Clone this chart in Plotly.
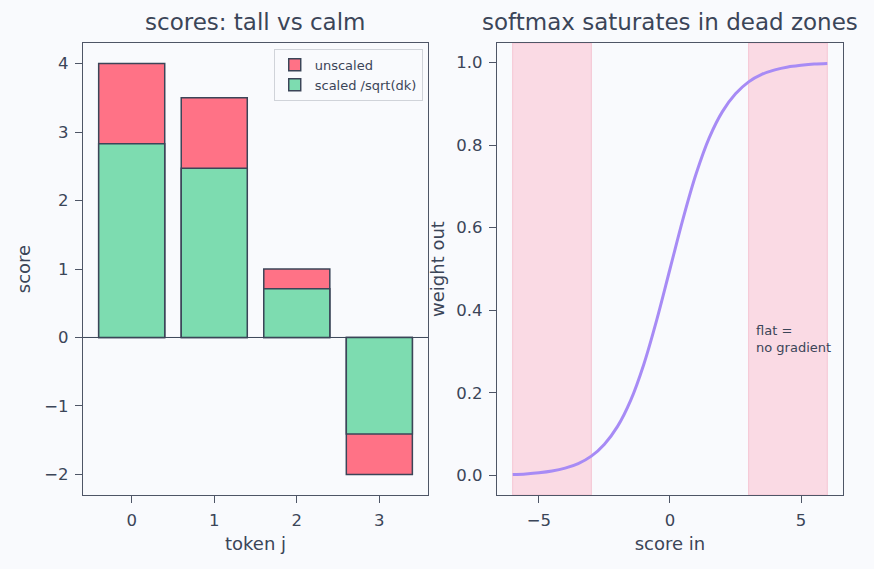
import plotly.graph_objects as go

tokens = [0, 1, 2, 3]
unscaled = [4.0, 3.5, 1.0, -2.0]
scaled = [2.83, 2.47, 0.71, -1.41]

score_in = [-6, -5.5, -5, -4.5, -4, -3.5, -3, -2.5, -2, -1.5, -1, -0.5, 0,
            0.5, 1, 1.5, 2, 2.5, 3, 3.5, 4, 4.5, 5, 5.5, 6]
weight_out = [0.0025, 0.0041, 0.0067, 0.011, 0.018, 0.029, 0.047, 0.076, 0.119,
              0.182, 0.269, 0.378, 0.5, 0.622, 0.731, 0.818, 0.881, 0.924, 0.953,
              0.971, 0.982, 0.989, 0.993, 0.996, 0.9975]
dead_zones = [(-6, -3), (3, 6)]

BG = "#f9fafd"
TXT = "#3b4558"
AX = "#4e5566"
FONT = "DejaVu Sans"

fig = go.Figure()

fig.add_trace(go.Bar(x=tokens, y=unscaled, name="unscaled", width=0.8,
                     xaxis="x", yaxis="y",
                     marker=dict(color="#ff7286", line=dict(color="#3b4558", width=1.5))))
fig.add_trace(go.Bar(x=tokens, y=scaled, name="scaled /sqrt(dk)", width=0.8,
                     xaxis="x", yaxis="y",
                     marker=dict(color="#7ddcb0", line=dict(color="#3b4558", width=1.5))))

for a, b in dead_zones:
    fig.add_shape(type="rect", xref="x2", yref="y2 domain", x0=a, x1=b, y0=0, y1=1,
                  fillcolor="#fbd3df", opacity=0.8,
                  line=dict(color="#f5b8c9", width=1), layer="below")

fig.add_trace(go.Scatter(x=score_in, y=weight_out, mode="lines", showlegend=False,
                         xaxis="x2", yaxis="y2",
                         line=dict(color="#a78bf5", width=3, shape="spline")))

fig.add_shape(type="line", xref="x domain", yref="y", x0=0, x1=1, y0=0, y1=0,
              line=dict(color=TXT, width=1))

fig.add_annotation(x=3.2, y=0.33, xref="x2", yref="y2", text="flat =<br>no gradient",
                   showarrow=False, xanchor="left", yanchor="middle", align="left",
                   font=dict(size=13, color=TXT, family=FONT))

fig.add_annotation(x=0.227, y=1.0, xref="paper", yref="paper", yshift=21,
                   xanchor="center", text="scores: tall vs calm", showarrow=False,
                   yanchor="middle", font=dict(size=23, color=TXT, family=FONT))
fig.add_annotation(x=0.7725, y=1.0, xref="paper", yref="paper", yshift=21,
                   xanchor="center", text="softmax saturates in dead zones",
                   showarrow=False, yanchor="middle",
                   font=dict(size=23, color=TXT, family=FONT))

axis_common = dict(showline=True, mirror=True, linecolor=AX, linewidth=1.3,
                   ticks="outside", ticklen=7, tickwidth=1.3, tickcolor=AX,
                   showgrid=False, zeroline=False, ticklabelstandoff=3,
                   tickfont=dict(size=16.5, color=TXT, family=FONT),
                   title_font=dict(size=18, color=TXT, family=FONT))

fig.update_layout(
    xaxis=dict(domain=[0, 0.454], anchor="y", range=[-0.59, 3.59], tickvals=tokens,
               title=dict(text="token j", standoff=8), **axis_common),
    yaxis=dict(domain=[0, 1], anchor="x", range=[-2.3, 4.3],
               tickvals=[-2, -1, 0, 1, 2, 3, 4],
               ticktext=["−2", "−1", "0", "1", "2", "3", "4"],
               title=dict(text="score", standoff=8), **axis_common),
    xaxis2=dict(domain=[0.5447, 1.0], anchor="y2", range=[-6.6, 6.6],
                tickvals=[-5, 0, 5], ticktext=["−5", "0", "5"],
                title=dict(text="score in", standoff=8), **axis_common),
    yaxis2=dict(domain=[0, 1], anchor="x2", range=[-0.047, 1.047],
                tickvals=[0, 0.2, 0.4, 0.6, 0.8, 1.0],
                ticktext=["0.0", "0.2", "0.4", "0.6", "0.8", "1.0"],
                title=dict(text="weight out", standoff=6), **axis_common),
)

fig.update_layout(
    width=874, height=569, barmode="overlay",
    paper_bgcolor=BG, plot_bgcolor=BG,
    margin=dict(l=83, r=31, t=43, b=74),
    font=dict(family=FONT, color=TXT),
    legend=dict(x=0.447, y=0.987, xanchor="right", yanchor="top",
                bgcolor="rgba(249,250,253,0.8)", bordercolor="#d0d3d9", borderwidth=1,
                font=dict(size=13, color=TXT, family=FONT), tracegroupgap=0),
)

fig.write_html("out.html")
